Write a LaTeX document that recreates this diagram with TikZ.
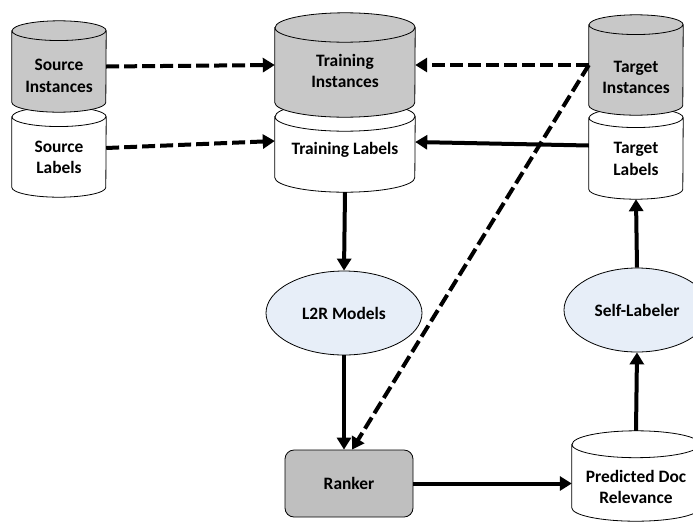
\documentclass[tikz,border=0pt]{standalone}
\usepackage{fontspec}
\setmainfont{Carlito}
\usetikzlibrary{positioning,arrows.meta,shapes.geometric}
\definecolor{dbgray}{RGB}{200,200,200}
\definecolor{boxgray}{RGB}{191,191,191}
\definecolor{modelblue}{RGB}{231,238,248}

\begin{document}
\begin{tikzpicture}[x=1pt,y=-1pt,
  font=\fontsize{17.4}{21.5}\selectfont\bfseries,
  % store: width, height, fill; the cap is drawn round the node box
  db/.style n args={3}{rectangle,inner sep=0pt,minimum width=#1,minimum height=#2,
    append after command={\pgfextra{%
      \draw[fill=#3,line width=0.8pt]
        ([yshift=-0.105*#1]\tikzlastnode.north west)
          -- ([yshift=0.105*#1]\tikzlastnode.south west)
          arc[start angle=180,end angle=360,x radius=0.5*#1,y radius=0.105*#1]
          -- ([yshift=-0.105*#1]\tikzlastnode.north east)
          arc[start angle=0,end angle=180,x radius=0.5*#1,y radius=0.105*#1] -- cycle
        ([yshift=-0.105*#1]\tikzlastnode.north west)
          arc[start angle=180,end angle=360,x radius=0.5*#1,y radius=0.105*#1];}}},
  dbtxt/.style={align=center,inner sep=0pt},
  model/.style={ellipse,draw,line width=0.8pt,fill=modelblue,align=center},
  box/.style={rectangle,rounded corners=9pt,draw,line width=0.8pt,fill=boxgray},
  flow/.style={line width=4pt,-{Triangle[length=12pt,width=14pt]}},
  feed/.style={flow,dash pattern=on 13pt off 5pt}]
\clip (0,0) rectangle (693,523);
% label stores first, the instance stores sit on top of them
\node[db={94pt}{90pt}{white},
  label={[dbtxt,yshift=-5.5pt]center:{Source\\Labels}}] (srcLab) at (59,152) {};
\node[db={140pt}{90pt}{white},
  label={[dbtxt,yshift=-3pt]center:{Training Labels}}] (trainLab) at (345,147) {};
\node[db={94pt}{91pt}{white},
  label={[dbtxt,yshift=-5.5pt]center:{Target\\Labels}}] (tgtLab) at (636,153.5) {};
\node[db={94pt}{91pt}{dbgray},
  label={[dbtxt,yshift=-9.5pt]center:{Source\\Instances}}] (srcInst) at (59,66.5) {};
\node[db={140pt}{104pt}{dbgray},
  label={[dbtxt,yshift=-6pt]center:{Training\\Instances}}] (trainInst) at (345,65) {};
\node[db={94pt}{100pt}{dbgray},
  label={[dbtxt,yshift=-12.5pt]center:{Target\\Instances}}] (tgtInst) at (636,65) {};
% models and ranking
\node[model,minimum width=156pt,minimum height=84pt] (l2r) at (344,313) {L2R Models};
\node[model,minimum width=146pt,minimum height=84pt] (selfLab) at (637,310) {Self-Labeler};
\node[box,minimum width=128pt,minimum height=67pt] (ranker) at (349,483.5) {Ranker};
\node[db={128pt}{90pt}{white},
  label={[dbtxt,yshift=-11pt]center:{Predicted Doc\\Relevance}}] (pred) at (636,476) {};
% data flow
\draw[feed] (srcInst.east) -- (trainInst.west);
\draw[feed] ([yshift=4pt]srcLab.east) -- ([yshift=6pt]trainLab.west);
\draw[feed] (tgtInst.west) -- (trainInst.east);
\draw[flow] ([yshift=8pt]tgtLab.west) -- ([yshift=5pt]trainLab.east);
\draw[feed] (tgtInst.west) -- ([xshift=3pt]ranker.north);
\draw[flow] (trainLab.south) -- (l2r.north);
\draw[flow] (l2r.south) -- (l2r.south |- ranker.north);
\draw[flow] (ranker.east) -- (ranker.east -| pred.west);
\draw[flow] (pred.north) -- (selfLab.south);
\draw[flow] (selfLab.north) -- (tgtLab.south);
\end{tikzpicture}
\end{document}
